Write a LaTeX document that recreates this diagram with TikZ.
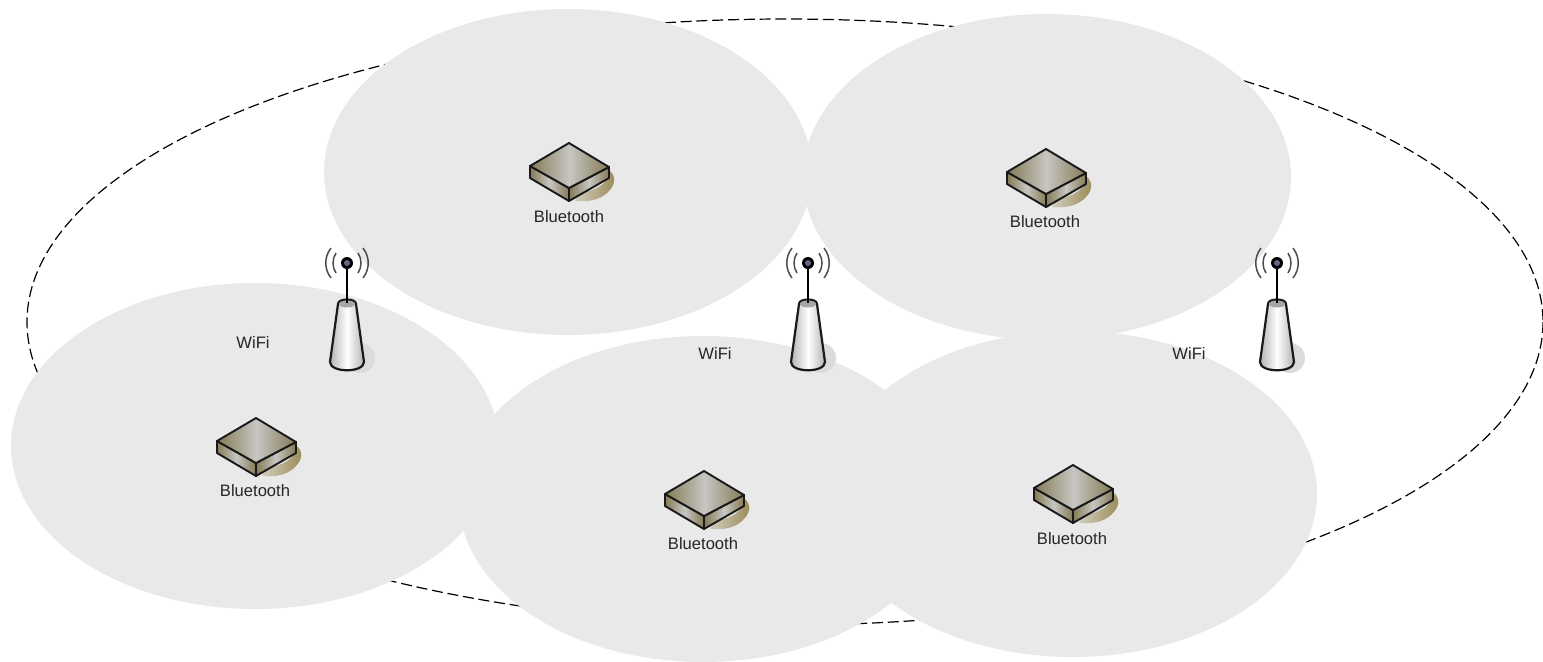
\documentclass[tikz,border=0pt]{standalone}
\usepackage{fontspec}
\setmainfont{Liberation Sans}
\definecolor{zone}{HTML}{E9E9E9}
\definecolor{olive}{HTML}{857A55}
\definecolor{pale}{HTML}{C6C6C2}
\definecolor{tan}{HTML}{9A8A58}
\tikzset{
  x=0.5pt,y=-0.5pt,
  zone/.style={fill=zone,draw=none},
  lbl/.style={font=\fontsize{8.3}{10}\selectfont,text=black!85,inner sep=0pt},
  edge/.style={draw=black!90,line width=0.95pt,line join=round},
  device/.pic={
    \shade[left color=zone!70!tan,right color=tan,draw=none]
      (10,50) .. controls (30,48) and (42,36) .. (41,28) .. controls (47,33) and (47,42) .. (38,50) .. controls (30,57) and (20,59) .. (6,58) -- cycle;
    \shade[left color=olive,right color=olive,middle color=pale,edge] (-39,23) -- (0,45) -- (0,58) -- (-39,35) -- cycle;
    \shade[left color=olive,right color=olive,middle color=pale,edge] (0,45) -- (40,24) -- (40,35) -- (0,58) -- cycle;
    \shade[left color=olive,right color=olive,middle color=pale,edge] (0,0) -- (40,24) -- (0,45) -- (-39,23) -- cycle;
  },
  antenna/.pic={
    \fill[black!14] (13,95) circle [radius=15];
    \draw[black,line width=1.1pt] (0,0) -- (0,38);
    \shade[left color=black!30,right color=black!30,middle color=white,edge,line width=1.1pt]
      (-9,41) -- (-17,99) .. controls (-17,110) and (17,110) .. (17,99) -- (9,41) .. controls (9,35) and (-9,35) .. (-9,41) -- cycle;
    \fill[black!35] (0,41) ellipse [x radius=8,y radius=3.5];
    \draw[black,line width=1.1pt] (0,0) -- (0,40);
    \fill[black] (0,0) circle [radius=6];
    \fill[black!25!blue!20!gray] (0,0) circle [radius=3];
    \draw[black!70,line width=0.75pt]
      (-11,-10) .. controls (-15,-4) and (-15,4) .. (-11,10)
      (11,-10) .. controls (15,-4) and (15,4) .. (11,10)
      (-16,-15) .. controls (-23,-6) and (-23,6) .. (-16,15)
      (16,-15) .. controls (23,-6) and (23,6) .. (16,15);
  }
}
\begin{document}
\begin{tikzpicture}
\useasboundingbox (0,0) rectangle (1543,661);
\draw[black,line width=0.6pt,dash pattern=on 5.5pt off 2.4pt] (785,322) ellipse [x radius=758,y radius=303];
\fill[zone] (568,172) ellipse [x radius=244,y radius=163];
\fill[zone] (1047,177) ellipse [x radius=244,y radius=163];
\fill[zone] (255,446) ellipse [x radius=244,y radius=163];
\fill[zone] (703,499) ellipse [x radius=244,y radius=163];
\fill[zone] (1073,494) ellipse [x radius=244,y radius=163];
\pic at (569,143) {device};
\pic at (1046,149) {device};
\pic at (256,418) {device};
\pic at (704,471) {device};
\pic at (1073,465) {device};
\pic at (347,263) {antenna};
\pic at (808,263) {antenna};
\pic at (1277,263) {antenna};
\node[lbl] (bt1) at (569,217) {Bluetooth};
\node[lbl] (bt2) at (1045,222) {Bluetooth};
\node[lbl] (bt3) at (255,491) {Bluetooth};
\node[lbl] (bt4) at (703,544) {Bluetooth};
\node[lbl] (bt5) at (1072,539) {Bluetooth};
\node[lbl] (w1) at (253,342) {WiFi};
\node[lbl] (w2) at (715,353) {WiFi};
\node[lbl] (w3) at (1189,353) {WiFi};
\end{tikzpicture}
\end{document}
